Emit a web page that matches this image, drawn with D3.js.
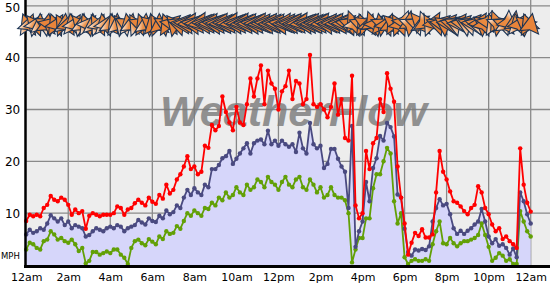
<!DOCTYPE html>
<html><head><meta charset="utf-8">
<script src="https://cdn.jsdelivr.net/npm/d3@7"></script>
<style>html,body{margin:0;padding:0;background:#fff;}svg{display:block;}</style>
</head><body>
<svg id="chart" width="550" height="285"></svg>
<script>
// ---- DATA (10-minute samples starting at 12am) ----
const gust = [8.5,9.7,9.4,9.7,9.4,11,11.6,13.3,12.6,12.3,
13,12.6,11.6,9.7,10.7,10,10.4,7,9.5,10,
9.7,9.4,9.7,9.7,9.7,10,11.3,11,9.7,10.7,
11,11.9,12.6,12,11.5,13,12.2,11.8,13.5,12.8,
15.5,13.8,14.5,16.5,17.5,19,21,18.5,19,17.5,
18,23,22.6,27,26,26.8,32.5,29.5,27.5,26,
30.5,27.5,27,31,36,32.5,36,38.5,31,37.5,
35,34,30,33.5,34.5,37.5,32,35.5,35,31,
32,40.5,31,30.5,31,30,28.5,30.5,35,29,
32,24.5,24,36.5,11.5,9,10,22,18.5,23.5,
24.5,32,29.5,37,34,31.5,19,13,8,2,
4.3,6.2,5.6,6.9,5.3,5.3,5.9,14,22,18,
16.5,14.2,12.3,12,11.3,10.4,9.8,11,11.6,15.2,
14,11,9.8,7.8,6.5,7.1,5,5.5,4.6,4,
3.3,22.5,15.5,12,10.3];
const avg = [5.9,6.8,6.2,6.5,7.1,6.8,8.0,9.6,9.0,8.4,
9.0,7.7,8.4,7.1,7.7,7.4,7.1,5.5,5.8,6.5,
7.1,6.8,6.5,7.1,7.4,7.1,7.7,7.4,6.5,7.1,
7.4,7.7,8.7,8.2,7.8,9.0,8.5,8.3,9.5,9.0,
10.5,9.8,10.2,11.5,11.0,13.0,14.5,13.5,14.8,14.0,
13.5,15.5,15.0,18.5,18.5,19.3,20.6,21.0,22.0,19.5,
20.5,21.5,22.5,23.5,21.5,23.5,24.0,24.2,23.3,25.9,
23.3,24.0,23.0,24.0,23.3,22.8,23.3,21.8,25.5,22.5,
21.5,27.4,23.3,22.5,23.0,18.7,19.5,22.4,22.4,20.5,
19.0,18.0,11.0,26.8,3.5,6.5,8.4,16.0,12.3,18.7,
20.6,24.9,24.0,27.4,26.6,24.8,13.6,13.0,7.0,2.5,
1.8,3.0,2.8,3.1,2.9,3.6,8.4,11.0,12.7,11.5,
11.8,9.8,7.1,6.0,6.6,6.0,6.6,7.1,7.8,8.4,
10.8,8.4,5.5,4.2,5.0,3.7,4.0,3.3,2.0,3.2,
1.5,14.0,12.3,9.8,8.0];
const lull = [3.0,4.3,4.0,3.3,3.0,4.6,4.9,6.5,5.9,4.9,
5.2,4.6,4.3,4.9,4.0,2.7,3.3,0.3,0.8,2.5,
2.5,2.0,2.3,2.6,2.3,3.0,3.0,2.0,1.4,0.2,
3.3,4.6,4.9,4.2,3.8,5.0,4.5,4.0,5.5,5.0,
6.5,6.0,6.2,7.5,7.0,8.5,10.0,9.5,10.5,10.0,
9.5,11.0,10.8,12.0,11.5,13.0,12.5,14.0,13.0,13.5,
15.0,14.0,13.5,15.5,14.5,15.0,16.5,16.0,15.0,17.0,
16.0,15.5,14.5,16.0,17.0,15.5,15.0,16.5,17.0,15.0,
14.5,16.5,15.5,14.0,15.0,13.0,13.5,15.0,13.5,13.0,
13.0,12.5,10.0,0.5,3.0,5.2,5.2,9.0,9.0,14.8,
17.5,17.5,20.0,22.6,21.5,12.3,8.0,10.0,1.5,0.2,
0.8,1.1,0.8,0.8,1.1,0.8,4.0,6.5,8.4,4.2,
4.0,5.2,4.2,3.6,4.2,4.6,4.6,4.9,5.2,5.8,
8.0,5.8,3.5,0.8,1.4,2.3,1.8,0.8,1.1,0.2,
0.2,10.4,8.4,6.5,5.5];
// direction the arrow points (degrees, 0 = east/right, 90 = down)
const dirDeg = [250,290,230,300,270,210,280,320,250,300,240,275,290,
260,300,230,280,250,310,270,240,295,260,300,280,
250,270,230,210,260,280,240,200,250,275,220,260,
240,270,210,250,190,230,200,185,
185,175,190,180,170,185,180,178,188,182,
176,184,180,172,186,180,175,183,179,188,
181,174,180,185,177,182,180,190,176,181,
184,178,180,172,186,181,177,183,180,175,
188,179,182,176,185,180,190,200,
120,300,200,250,340,290,20,310,260,330,300,280,350,240,300,
60,150,330,200,100,280,20,240,170,
200,190,215,185,195,205,180,190,210,200,185,195,175,220,
300,60,250,120,330,200,280,40,150,260,300,220,250,280];
const sampleMinutes = 10;
const tickHours = [0,2,4,6,8,10,12,14,16,18,20,22,24];
const tickLabels = ["12am","2am","4am","6am","8am","10am","12pm","2pm","4pm","6pm","8pm","10pm","12am"];
const yTicks = [10,20,30,40,50];
const arrowLevel = 46.6; // mph row where direction arrows sit

// ---- CHART ----
const W = 550, H = 285;
const svg = d3.select("#chart");
const x = d3.scaleLinear().domain([0,24]).range([26.2,530.7]);
const y = d3.scaleLinear().domain([0,50]).range([265,5.8]);
const n = Math.min(gust.length, avg.length, lull.length, dirDeg.length);
const rows = d3.range(n).map(i => ({t: i*sampleMinutes/60, gust: gust[i], avg: avg[i], lull: lull[i], dir: dirDeg[i]}));

const defs = svg.append("defs");
const grad = defs.append("linearGradient").attr("id","wgrad").attr("x1",0).attr("y1",0).attr("x2",0).attr("y2",1);
grad.append("stop").attr("offset","0%").attr("stop-color","#ffffff");
grad.append("stop").attr("offset","40%").attr("stop-color","#eb8f45");
grad.append("stop").attr("offset","100%").attr("stop-color","#e8843a");

// plot background
svg.append("rect").attr("x",x(0)).attr("y",0).attr("width",W-x(0)).attr("height",y(0)).attr("fill","#ededed");

// grid
const grid = svg.append("g").attr("stroke","#8a8a8a").attr("stroke-width",1.3);
grid.selectAll("line.v").data(tickHours.slice(1)).join("line")
  .attr("x1",d=>x(d)).attr("x2",d=>x(d)).attr("y1",0).attr("y2",y(0));
grid.selectAll("line.h").data(yTicks).join("line")
  .attr("x1",x(0)).attr("x2",W).attr("y1",d=>y(d)).attr("y2",d=>y(d));

// watermark
svg.append("text").attr("x",160).attr("y",126)
  .attr("font-family","'Liberation Sans', Arial, sans-serif").attr("font-weight","bold").attr("font-style","italic")
  .attr("font-size",42).attr("fill","#7a7a7a").attr("opacity",0.8)
  .attr("textLength",267).attr("lengthAdjust","spacingAndGlyphs").text("WeatherFlow");

// area under average
svg.append("path").datum(rows)
  .attr("d", d3.area().x(d=>x(d.t)).y0(y(0)).y1(d=>y(d.avg)))
  .attr("fill","#d6d6fa");

const series = [
  {key:"lull", color:"#62a006"},
  {key:"avg", color:"#4a4a80"},
  {key:"gust", color:"#ff0000"}
];
series.forEach(s => {
  const g = svg.append("g");
  g.append("path").datum(rows)
    .attr("d", d3.line().x(d=>x(d.t)).y(d=>y(d[s.key])))
    .attr("fill","none").attr("stroke",s.color).attr("stroke-width",1.8).attr("stroke-linejoin","round");
  g.selectAll("circle").data(rows).join("circle")
    .attr("cx",d=>x(d.t)).attr("cy",d=>y(d[s.key])).attr("r",2.2).attr("fill",s.color);
});

// axes
const xAxis = svg.append("g").attr("transform",`translate(0,${y(0)})`)
  .call(d3.axisBottom(x).tickValues(tickHours).tickFormat((d,i)=>tickLabels[i]).tickSize(0).tickPadding(8));
xAxis.select(".domain").remove();
xAxis.selectAll("text").attr("font-family","'DejaVu Sans', Verdana, sans-serif").attr("font-size",11).attr("fill","#000");

const yAxis = svg.append("g").attr("transform",`translate(${x(0)},0)`)
  .call(d3.axisLeft(y).tickValues(yTicks).tickFormat(d3.format("d")).tickSize(0).tickPadding(6));
yAxis.select(".domain").remove();
yAxis.selectAll("text").attr("font-family","'DejaVu Sans', Verdana, sans-serif").attr("font-size",12).attr("fill","#000")
  .attr("dy", d => d === 50 ? "0.5em" : "0.32em");

svg.append("text").attr("x",1).attr("y",258.5).attr("font-family","'DejaVu Sans', Verdana, sans-serif")
  .attr("font-size",8.5).attr("fill","#000").text("MPH");

// axis lines
svg.append("line").attr("x1",25.5).attr("x2",25.5).attr("y1",0).attr("y2",268).attr("stroke","#000").attr("stroke-width",2.5);
svg.append("line").attr("x1",24).attr("x2",W).attr("y1",266.5).attr("y2",266.5).attr("stroke","#000").attr("stroke-width",3);

// direction arrows
const arrowPath = "M10,0 L-9,-9.5 L-6.5,0 L-9,9.5 Z";
svg.append("g").selectAll("path").data(rows).join("path")
  .attr("d", arrowPath)
  .attr("transform", d => `translate(${x(d.t)},${y(arrowLevel)}) rotate(${d.dir})`)
  .attr("fill", d => d.avg < 8 ? "url(#wgrad)" : "#e8843a")
  .attr("stroke","#1c3454").attr("stroke-width",1.1).attr("stroke-linejoin","miter");
</script>
</body></html>
